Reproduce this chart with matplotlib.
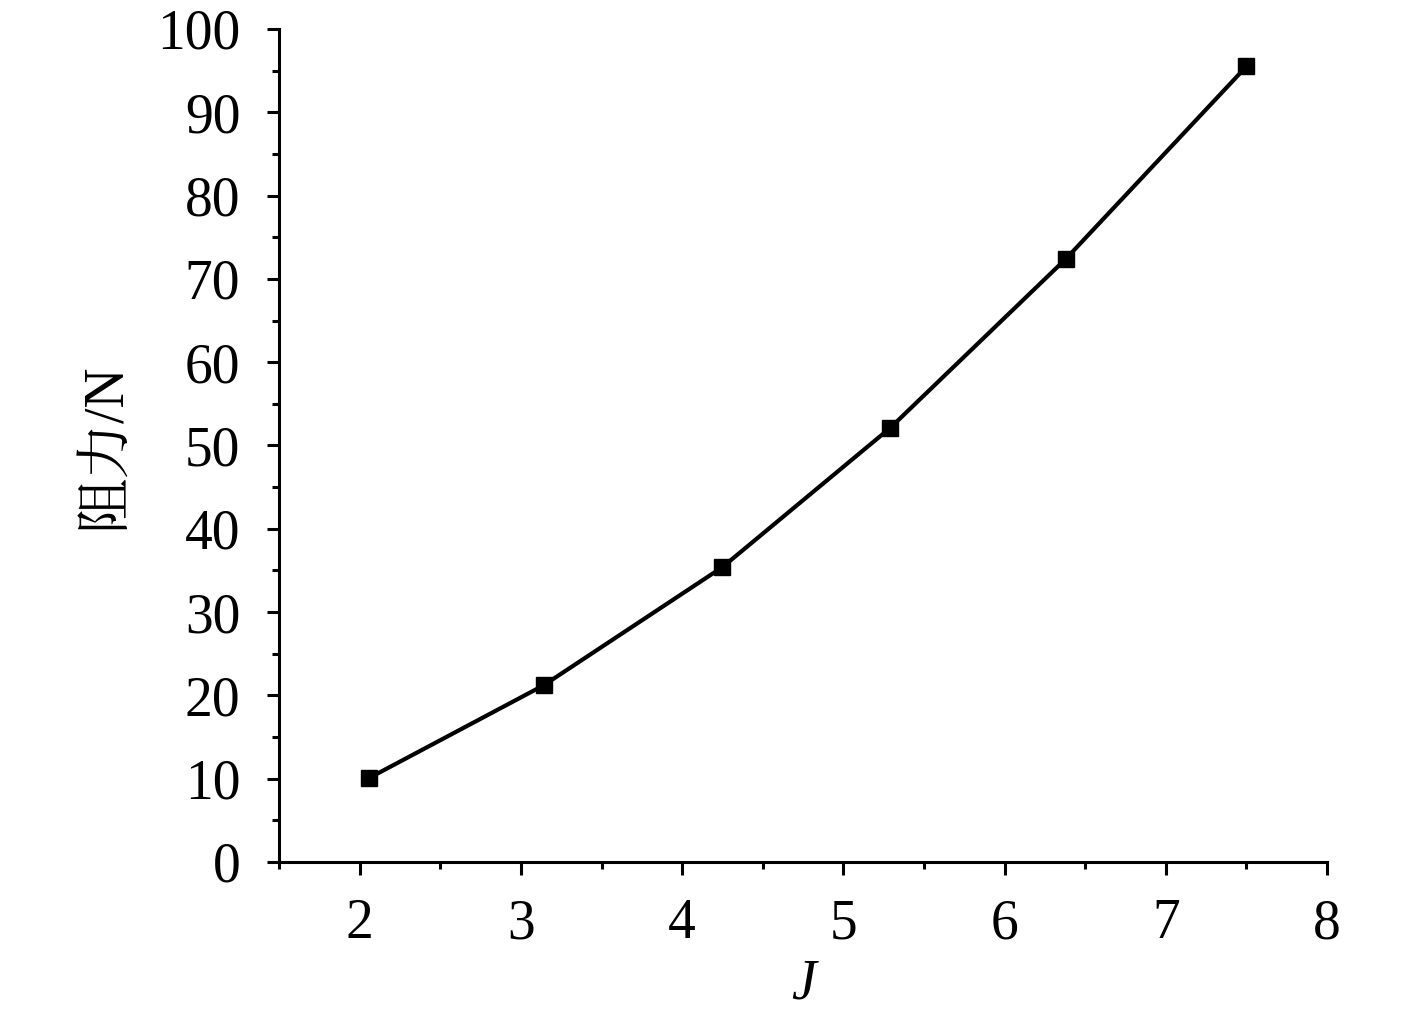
import matplotlib.pyplot as plt
from matplotlib import font_manager
from matplotlib.ticker import MultipleLocator

# values
j_values = [2.06, 3.14, 4.25, 5.29, 6.38, 7.50]
resistance = [10.1, 21.2, 35.4, 52.1, 72.4, 95.5]

x_label = "J"
y_label = "阻力/N"

# serif CJK if there is one, else the sans one
cjk = 'Noto Sans CJK SC'
for name in ['Noto Serif CJK SC', 'Noto Serif SC', 'AR PL UMing CN']:
    try:
        font_manager.findfont(name, fallback_to_default=False)
        cjk = name
        break
    except ValueError:
        pass

plt.rcParams['font.family'] = 'Liberation Serif'
plt.rcParams['font.size'] = 40

fig = plt.figure(figsize=(14.17, 10.23), dpi=100)
ax = fig.add_axes([0.197, 0.1574, 0.7395, 0.8143])

ax.plot(j_values, resistance, color='black', linewidth=3,
        marker='s', markersize=11, markerfacecolor='black', markeredgecolor='black')

ax.set_xlim(1.5, 8)
ax.set_ylim(0, 100)
ax.xaxis.set_major_locator(MultipleLocator(1))
ax.xaxis.set_minor_locator(MultipleLocator(0.5))
ax.yaxis.set_major_locator(MultipleLocator(10))
ax.yaxis.set_minor_locator(MultipleLocator(5))

for side in ['top', 'right']:
    ax.spines[side].set_visible(False)
for side in ['left', 'bottom']:
    ax.spines[side].set_linewidth(2.2)

ax.tick_params(which='major', direction='out', length=9, width=2.2)
ax.tick_params(which='minor', direction='out', length=5, width=2.2)
ax.tick_params(axis='y', which='major', pad=19)
ax.tick_params(axis='x', which='major', pad=17)

ax.set_xlabel(x_label, style='italic', labelpad=6)
ax.set_ylabel(y_label, family=['Liberation Serif', cjk], labelpad=18)

fig.savefig('out.png', dpi=100)
